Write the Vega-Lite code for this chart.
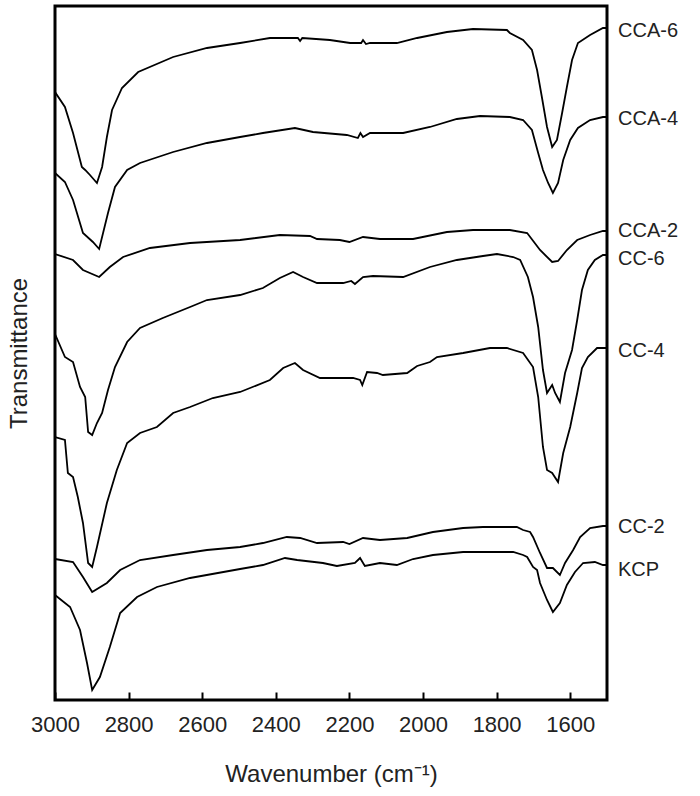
{
  "$schema": "https://vega.github.io/schema/vega-lite/v6.json",
  "width": 552,
  "height": 694,
  "autosize": "none",
  "padding": {"left": 55, "top": 6, "right": 93, "bottom": 96},
  "background": "white",
  "config": {
    "view": {"stroke": "black", "strokeWidth": 3},
    "font": "Liberation Sans",
    "text": {"font": "Liberation Sans"}
  },
  "datasets": {
    "spectra": [
      {"sample":"CCA-6","wavenumber":3000,"transmittance":608},
      {"sample":"CCA-6","wavenumber":2973,"transmittance":593},
      {"sample":"CCA-6","wavenumber":2951,"transmittance":567},
      {"sample":"CCA-6","wavenumber":2927,"transmittance":533},
      {"sample":"CCA-6","wavenumber":2918,"transmittance":530},
      {"sample":"CCA-6","wavenumber":2905,"transmittance":525},
      {"sample":"CCA-6","wavenumber":2886,"transmittance":517},
      {"sample":"CCA-6","wavenumber":2872,"transmittance":533},
      {"sample":"CCA-6","wavenumber":2859,"transmittance":563},
      {"sample":"CCA-6","wavenumber":2845,"transmittance":590},
      {"sample":"CCA-6","wavenumber":2818,"transmittance":612},
      {"sample":"CCA-6","wavenumber":2774,"transmittance":628},
      {"sample":"CCA-6","wavenumber":2679,"transmittance":643},
      {"sample":"CCA-6","wavenumber":2587,"transmittance":652},
      {"sample":"CCA-6","wavenumber":2497,"transmittance":657},
      {"sample":"CCA-6","wavenumber":2416,"transmittance":662},
      {"sample":"CCA-6","wavenumber":2340,"transmittance":662},
      {"sample":"CCA-6","wavenumber":2334,"transmittance":659},
      {"sample":"CCA-6","wavenumber":2328,"transmittance":662},
      {"sample":"CCA-6","wavenumber":2253,"transmittance":660},
      {"sample":"CCA-6","wavenumber":2198,"transmittance":657},
      {"sample":"CCA-6","wavenumber":2168,"transmittance":657},
      {"sample":"CCA-6","wavenumber":2163,"transmittance":660},
      {"sample":"CCA-6","wavenumber":2155,"transmittance":656},
      {"sample":"CCA-6","wavenumber":2144,"transmittance":657},
      {"sample":"CCA-6","wavenumber":2071,"transmittance":657},
      {"sample":"CCA-6","wavenumber":2016,"transmittance":662},
      {"sample":"CCA-6","wavenumber":1935,"transmittance":668},
      {"sample":"CCA-6","wavenumber":1864,"transmittance":671},
      {"sample":"CCA-6","wavenumber":1772,"transmittance":670},
      {"sample":"CCA-6","wavenumber":1764,"transmittance":667},
      {"sample":"CCA-6","wavenumber":1728,"transmittance":660},
      {"sample":"CCA-6","wavenumber":1704,"transmittance":650},
      {"sample":"CCA-6","wavenumber":1690,"transmittance":630},
      {"sample":"CCA-6","wavenumber":1677,"transmittance":603},
      {"sample":"CCA-6","wavenumber":1663,"transmittance":573},
      {"sample":"CCA-6","wavenumber":1649,"transmittance":553},
      {"sample":"CCA-6","wavenumber":1636,"transmittance":560},
      {"sample":"CCA-6","wavenumber":1622,"transmittance":587},
      {"sample":"CCA-6","wavenumber":1609,"transmittance":613},
      {"sample":"CCA-6","wavenumber":1595,"transmittance":640},
      {"sample":"CCA-6","wavenumber":1579,"transmittance":657},
      {"sample":"CCA-6","wavenumber":1546,"transmittance":665},
      {"sample":"CCA-6","wavenumber":1511,"transmittance":672},
      {"sample":"CCA-6","wavenumber":1500,"transmittance":672},

      {"sample":"CCA-4","wavenumber":3000,"transmittance":527},
      {"sample":"CCA-4","wavenumber":2973,"transmittance":518},
      {"sample":"CCA-4","wavenumber":2951,"transmittance":500},
      {"sample":"CCA-4","wavenumber":2924,"transmittance":467},
      {"sample":"CCA-4","wavenumber":2897,"transmittance":458},
      {"sample":"CCA-4","wavenumber":2880,"transmittance":451},
      {"sample":"CCA-4","wavenumber":2856,"transmittance":487},
      {"sample":"CCA-4","wavenumber":2837,"transmittance":513},
      {"sample":"CCA-4","wavenumber":2804,"transmittance":530},
      {"sample":"CCA-4","wavenumber":2769,"transmittance":537},
      {"sample":"CCA-4","wavenumber":2679,"transmittance":548},
      {"sample":"CCA-4","wavenumber":2587,"transmittance":557},
      {"sample":"CCA-4","wavenumber":2497,"transmittance":563},
      {"sample":"CCA-4","wavenumber":2435,"transmittance":567},
      {"sample":"CCA-4","wavenumber":2348,"transmittance":572},
      {"sample":"CCA-4","wavenumber":2299,"transmittance":568},
      {"sample":"CCA-4","wavenumber":2207,"transmittance":565},
      {"sample":"CCA-4","wavenumber":2177,"transmittance":562},
      {"sample":"CCA-4","wavenumber":2170,"transmittance":567},
      {"sample":"CCA-4","wavenumber":2163,"transmittance":563},
      {"sample":"CCA-4","wavenumber":2144,"transmittance":567},
      {"sample":"CCA-4","wavenumber":2054,"transmittance":567},
      {"sample":"CCA-4","wavenumber":1981,"transmittance":573},
      {"sample":"CCA-4","wavenumber":1908,"transmittance":581},
      {"sample":"CCA-4","wavenumber":1845,"transmittance":584},
      {"sample":"CCA-4","wavenumber":1764,"transmittance":583},
      {"sample":"CCA-4","wavenumber":1728,"transmittance":580},
      {"sample":"CCA-4","wavenumber":1704,"transmittance":570},
      {"sample":"CCA-4","wavenumber":1687,"transmittance":547},
      {"sample":"CCA-4","wavenumber":1674,"transmittance":530},
      {"sample":"CCA-4","wavenumber":1660,"transmittance":517},
      {"sample":"CCA-4","wavenumber":1647,"transmittance":507},
      {"sample":"CCA-4","wavenumber":1633,"transmittance":517},
      {"sample":"CCA-4","wavenumber":1619,"transmittance":540},
      {"sample":"CCA-4","wavenumber":1600,"transmittance":560},
      {"sample":"CCA-4","wavenumber":1579,"transmittance":572},
      {"sample":"CCA-4","wavenumber":1546,"transmittance":580},
      {"sample":"CCA-4","wavenumber":1511,"transmittance":583},
      {"sample":"CCA-4","wavenumber":1500,"transmittance":583},

      {"sample":"CCA-2","wavenumber":3000,"transmittance":446},
      {"sample":"CCA-2","wavenumber":2951,"transmittance":440},
      {"sample":"CCA-2","wavenumber":2924,"transmittance":430},
      {"sample":"CCA-2","wavenumber":2880,"transmittance":423},
      {"sample":"CCA-2","wavenumber":2851,"transmittance":433},
      {"sample":"CCA-2","wavenumber":2815,"transmittance":443},
      {"sample":"CCA-2","wavenumber":2742,"transmittance":452},
      {"sample":"CCA-2","wavenumber":2633,"transmittance":457},
      {"sample":"CCA-2","wavenumber":2497,"transmittance":460},
      {"sample":"CCA-2","wavenumber":2389,"transmittance":465},
      {"sample":"CCA-2","wavenumber":2307,"transmittance":464},
      {"sample":"CCA-2","wavenumber":2288,"transmittance":461},
      {"sample":"CCA-2","wavenumber":2226,"transmittance":460},
      {"sample":"CCA-2","wavenumber":2200,"transmittance":458},
      {"sample":"CCA-2","wavenumber":2163,"transmittance":463},
      {"sample":"CCA-2","wavenumber":2117,"transmittance":461},
      {"sample":"CCA-2","wavenumber":2027,"transmittance":461},
      {"sample":"CCA-2","wavenumber":1935,"transmittance":468},
      {"sample":"CCA-2","wavenumber":1864,"transmittance":470},
      {"sample":"CCA-2","wavenumber":1764,"transmittance":470},
      {"sample":"CCA-2","wavenumber":1717,"transmittance":467},
      {"sample":"CCA-2","wavenumber":1682,"transmittance":450},
      {"sample":"CCA-2","wavenumber":1649,"transmittance":438},
      {"sample":"CCA-2","wavenumber":1633,"transmittance":439},
      {"sample":"CCA-2","wavenumber":1609,"transmittance":450},
      {"sample":"CCA-2","wavenumber":1581,"transmittance":460},
      {"sample":"CCA-2","wavenumber":1546,"transmittance":465},
      {"sample":"CCA-2","wavenumber":1511,"transmittance":469},
      {"sample":"CCA-2","wavenumber":1500,"transmittance":469},

      {"sample":"CC-6","wavenumber":3000,"transmittance":366},
      {"sample":"CC-6","wavenumber":2973,"transmittance":343},
      {"sample":"CC-6","wavenumber":2951,"transmittance":338},
      {"sample":"CC-6","wavenumber":2932,"transmittance":313},
      {"sample":"CC-6","wavenumber":2918,"transmittance":303},
      {"sample":"CC-6","wavenumber":2910,"transmittance":268},
      {"sample":"CC-6","wavenumber":2899,"transmittance":265},
      {"sample":"CC-6","wavenumber":2886,"transmittance":277},
      {"sample":"CC-6","wavenumber":2872,"transmittance":287},
      {"sample":"CC-6","wavenumber":2856,"transmittance":310},
      {"sample":"CC-6","wavenumber":2837,"transmittance":333},
      {"sample":"CC-6","wavenumber":2804,"transmittance":358},
      {"sample":"CC-6","wavenumber":2769,"transmittance":372},
      {"sample":"CC-6","wavenumber":2707,"transmittance":382},
      {"sample":"CC-6","wavenumber":2633,"transmittance":393},
      {"sample":"CC-6","wavenumber":2587,"transmittance":400},
      {"sample":"CC-6","wavenumber":2497,"transmittance":405},
      {"sample":"CC-6","wavenumber":2435,"transmittance":412},
      {"sample":"CC-6","wavenumber":2389,"transmittance":422},
      {"sample":"CC-6","wavenumber":2353,"transmittance":428},
      {"sample":"CC-6","wavenumber":2326,"transmittance":423},
      {"sample":"CC-6","wavenumber":2288,"transmittance":417},
      {"sample":"CC-6","wavenumber":2217,"transmittance":417},
      {"sample":"CC-6","wavenumber":2195,"transmittance":419},
      {"sample":"CC-6","wavenumber":2185,"transmittance":416},
      {"sample":"CC-6","wavenumber":2163,"transmittance":423},
      {"sample":"CC-6","wavenumber":2136,"transmittance":424},
      {"sample":"CC-6","wavenumber":2054,"transmittance":423},
      {"sample":"CC-6","wavenumber":1981,"transmittance":433},
      {"sample":"CC-6","wavenumber":1908,"transmittance":440},
      {"sample":"CC-6","wavenumber":1837,"transmittance":444},
      {"sample":"CC-6","wavenumber":1799,"transmittance":446},
      {"sample":"CC-6","wavenumber":1755,"transmittance":443},
      {"sample":"CC-6","wavenumber":1736,"transmittance":440},
      {"sample":"CC-6","wavenumber":1715,"transmittance":423},
      {"sample":"CC-6","wavenumber":1701,"transmittance":403},
      {"sample":"CC-6","wavenumber":1687,"transmittance":373},
      {"sample":"CC-6","wavenumber":1674,"transmittance":330},
      {"sample":"CC-6","wavenumber":1663,"transmittance":307},
      {"sample":"CC-6","wavenumber":1649,"transmittance":315},
      {"sample":"CC-6","wavenumber":1641,"transmittance":307},
      {"sample":"CC-6","wavenumber":1628,"transmittance":298},
      {"sample":"CC-6","wavenumber":1614,"transmittance":327},
      {"sample":"CC-6","wavenumber":1595,"transmittance":350},
      {"sample":"CC-6","wavenumber":1581,"transmittance":380},
      {"sample":"CC-6","wavenumber":1568,"transmittance":410},
      {"sample":"CC-6","wavenumber":1552,"transmittance":430},
      {"sample":"CC-6","wavenumber":1533,"transmittance":440},
      {"sample":"CC-6","wavenumber":1511,"transmittance":445},
      {"sample":"CC-6","wavenumber":1500,"transmittance":445},

      {"sample":"CC-4","wavenumber":3000,"transmittance":263},
      {"sample":"CC-4","wavenumber":2973,"transmittance":260},
      {"sample":"CC-4","wavenumber":2965,"transmittance":227},
      {"sample":"CC-4","wavenumber":2951,"transmittance":223},
      {"sample":"CC-4","wavenumber":2938,"transmittance":203},
      {"sample":"CC-4","wavenumber":2924,"transmittance":177},
      {"sample":"CC-4","wavenumber":2910,"transmittance":137},
      {"sample":"CC-4","wavenumber":2899,"transmittance":133},
      {"sample":"CC-4","wavenumber":2886,"transmittance":153},
      {"sample":"CC-4","wavenumber":2859,"transmittance":197},
      {"sample":"CC-4","wavenumber":2832,"transmittance":230},
      {"sample":"CC-4","wavenumber":2804,"transmittance":257},
      {"sample":"CC-4","wavenumber":2769,"transmittance":267},
      {"sample":"CC-4","wavenumber":2723,"transmittance":273},
      {"sample":"CC-4","wavenumber":2679,"transmittance":287},
      {"sample":"CC-4","wavenumber":2633,"transmittance":293},
      {"sample":"CC-4","wavenumber":2571,"transmittance":302},
      {"sample":"CC-4","wavenumber":2497,"transmittance":308},
      {"sample":"CC-4","wavenumber":2416,"transmittance":320},
      {"sample":"CC-4","wavenumber":2380,"transmittance":332},
      {"sample":"CC-4","wavenumber":2348,"transmittance":337},
      {"sample":"CC-4","wavenumber":2326,"transmittance":330},
      {"sample":"CC-4","wavenumber":2280,"transmittance":322},
      {"sample":"CC-4","wavenumber":2190,"transmittance":322},
      {"sample":"CC-4","wavenumber":2171,"transmittance":320},
      {"sample":"CC-4","wavenumber":2165,"transmittance":315},
      {"sample":"CC-4","wavenumber":2152,"transmittance":328},
      {"sample":"CC-4","wavenumber":2125,"transmittance":327},
      {"sample":"CC-4","wavenumber":2109,"transmittance":325},
      {"sample":"CC-4","wavenumber":2043,"transmittance":327},
      {"sample":"CC-4","wavenumber":2016,"transmittance":334},
      {"sample":"CC-4","wavenumber":1981,"transmittance":338},
      {"sample":"CC-4","wavenumber":1962,"transmittance":343},
      {"sample":"CC-4","wavenumber":1891,"transmittance":347},
      {"sample":"CC-4","wavenumber":1818,"transmittance":352},
      {"sample":"CC-4","wavenumber":1772,"transmittance":352},
      {"sample":"CC-4","wavenumber":1728,"transmittance":347},
      {"sample":"CC-4","wavenumber":1701,"transmittance":333},
      {"sample":"CC-4","wavenumber":1687,"transmittance":303},
      {"sample":"CC-4","wavenumber":1674,"transmittance":253},
      {"sample":"CC-4","wavenumber":1663,"transmittance":230},
      {"sample":"CC-4","wavenumber":1649,"transmittance":227},
      {"sample":"CC-4","wavenumber":1633,"transmittance":218},
      {"sample":"CC-4","wavenumber":1619,"transmittance":247},
      {"sample":"CC-4","wavenumber":1600,"transmittance":273},
      {"sample":"CC-4","wavenumber":1581,"transmittance":307},
      {"sample":"CC-4","wavenumber":1568,"transmittance":332},
      {"sample":"CC-4","wavenumber":1552,"transmittance":343},
      {"sample":"CC-4","wavenumber":1527,"transmittance":352},
      {"sample":"CC-4","wavenumber":1511,"transmittance":352},
      {"sample":"CC-4","wavenumber":1500,"transmittance":352},

      {"sample":"CC-2","wavenumber":3000,"transmittance":141},
      {"sample":"CC-2","wavenumber":2951,"transmittance":138},
      {"sample":"CC-2","wavenumber":2924,"transmittance":123},
      {"sample":"CC-2","wavenumber":2899,"transmittance":108},
      {"sample":"CC-2","wavenumber":2859,"transmittance":117},
      {"sample":"CC-2","wavenumber":2823,"transmittance":130},
      {"sample":"CC-2","wavenumber":2769,"transmittance":140},
      {"sample":"CC-2","wavenumber":2679,"transmittance":145},
      {"sample":"CC-2","wavenumber":2587,"transmittance":150},
      {"sample":"CC-2","wavenumber":2497,"transmittance":153},
      {"sample":"CC-2","wavenumber":2435,"transmittance":157},
      {"sample":"CC-2","wavenumber":2370,"transmittance":163},
      {"sample":"CC-2","wavenumber":2334,"transmittance":162},
      {"sample":"CC-2","wavenumber":2288,"transmittance":157},
      {"sample":"CC-2","wavenumber":2217,"transmittance":158},
      {"sample":"CC-2","wavenumber":2200,"transmittance":156},
      {"sample":"CC-2","wavenumber":2163,"transmittance":162},
      {"sample":"CC-2","wavenumber":2117,"transmittance":160},
      {"sample":"CC-2","wavenumber":2043,"transmittance":162},
      {"sample":"CC-2","wavenumber":1973,"transmittance":168},
      {"sample":"CC-2","wavenumber":1891,"transmittance":172},
      {"sample":"CC-2","wavenumber":1837,"transmittance":173},
      {"sample":"CC-2","wavenumber":1745,"transmittance":173},
      {"sample":"CC-2","wavenumber":1728,"transmittance":170},
      {"sample":"CC-2","wavenumber":1709,"transmittance":168},
      {"sample":"CC-2","wavenumber":1701,"transmittance":163},
      {"sample":"CC-2","wavenumber":1682,"transmittance":147},
      {"sample":"CC-2","wavenumber":1663,"transmittance":132},
      {"sample":"CC-2","wavenumber":1647,"transmittance":132},
      {"sample":"CC-2","wavenumber":1628,"transmittance":125},
      {"sample":"CC-2","wavenumber":1614,"transmittance":137},
      {"sample":"CC-2","wavenumber":1592,"transmittance":150},
      {"sample":"CC-2","wavenumber":1573,"transmittance":163},
      {"sample":"CC-2","wavenumber":1546,"transmittance":172},
      {"sample":"CC-2","wavenumber":1511,"transmittance":174},
      {"sample":"CC-2","wavenumber":1500,"transmittance":174},

      {"sample":"KCP","wavenumber":3000,"transmittance":105},
      {"sample":"KCP","wavenumber":2959,"transmittance":93},
      {"sample":"KCP","wavenumber":2932,"transmittance":70},
      {"sample":"KCP","wavenumber":2913,"transmittance":37},
      {"sample":"KCP","wavenumber":2899,"transmittance":10},
      {"sample":"KCP","wavenumber":2878,"transmittance":23},
      {"sample":"KCP","wavenumber":2851,"transmittance":53},
      {"sample":"KCP","wavenumber":2823,"transmittance":87},
      {"sample":"KCP","wavenumber":2777,"transmittance":103},
      {"sample":"KCP","wavenumber":2723,"transmittance":113},
      {"sample":"KCP","wavenumber":2633,"transmittance":122},
      {"sample":"KCP","wavenumber":2497,"transmittance":131},
      {"sample":"KCP","wavenumber":2435,"transmittance":135},
      {"sample":"KCP","wavenumber":2375,"transmittance":142},
      {"sample":"KCP","wavenumber":2342,"transmittance":140},
      {"sample":"KCP","wavenumber":2272,"transmittance":137},
      {"sample":"KCP","wavenumber":2234,"transmittance":134},
      {"sample":"KCP","wavenumber":2185,"transmittance":137},
      {"sample":"KCP","wavenumber":2171,"transmittance":142},
      {"sample":"KCP","wavenumber":2158,"transmittance":134},
      {"sample":"KCP","wavenumber":2117,"transmittance":137},
      {"sample":"KCP","wavenumber":2071,"transmittance":135},
      {"sample":"KCP","wavenumber":2027,"transmittance":141},
      {"sample":"KCP","wavenumber":1973,"transmittance":145},
      {"sample":"KCP","wavenumber":1891,"transmittance":148},
      {"sample":"KCP","wavenumber":1755,"transmittance":148},
      {"sample":"KCP","wavenumber":1728,"transmittance":145},
      {"sample":"KCP","wavenumber":1717,"transmittance":143},
      {"sample":"KCP","wavenumber":1701,"transmittance":133},
      {"sample":"KCP","wavenumber":1690,"transmittance":130},
      {"sample":"KCP","wavenumber":1682,"transmittance":117},
      {"sample":"KCP","wavenumber":1663,"transmittance":100},
      {"sample":"KCP","wavenumber":1647,"transmittance":88},
      {"sample":"KCP","wavenumber":1628,"transmittance":97},
      {"sample":"KCP","wavenumber":1609,"transmittance":115},
      {"sample":"KCP","wavenumber":1587,"transmittance":128},
      {"sample":"KCP","wavenumber":1565,"transmittance":137},
      {"sample":"KCP","wavenumber":1533,"transmittance":138},
      {"sample":"KCP","wavenumber":1511,"transmittance":135},
      {"sample":"KCP","wavenumber":1500,"transmittance":135}
    ],
    "labels": [
      {"sample":"CCA-6","wavenumber":1500,"transmittance":669},
      {"sample":"CCA-4","wavenumber":1500,"transmittance":581},
      {"sample":"CCA-2","wavenumber":1500,"transmittance":469},
      {"sample":"CC-6","wavenumber":1500,"transmittance":441},
      {"sample":"CC-4","wavenumber":1500,"transmittance":349},
      {"sample":"CC-2","wavenumber":1500,"transmittance":173},
      {"sample":"KCP","wavenumber":1500,"transmittance":130}
    ]
  },
  "layer": [
    {
      "data": {"name": "spectra"},
      "mark": {"type": "line", "color": "black", "strokeWidth": 1.8, "clip": true},
      "encoding": {
        "x": {
          "field": "wavenumber", "type": "quantitative",
          "scale": {"domain": [3000, 1500], "nice": false, "zero": false},
          "axis": {
            "values": [3000, 2800, 2600, 2400, 2200, 2000, 1800, 1600],
            "format": "d", "labelOverlap": false, "labelFlush": false, "labelBound": false,
            "domain": false, "grid": false,
            "tickColor": "black", "tickWidth": 2, "tickSize": -8,
            "labelFontSize": 22, "labelColor": "#222", "labelPadding": 22,
            "labelFont": "Liberation Sans",
            "title": "Wavenumber (cm⁻¹)", "titleFontSize": 24, "titleFontWeight": "normal",
            "titleColor": "#222", "titleFont": "Liberation Sans", "titlePadding": 27
          }
        },
        "y": {
          "field": "transmittance", "type": "quantitative",
          "scale": {"domain": [0, 694], "nice": false, "zero": false},
          "axis": {
            "domain": false, "ticks": false, "labels": false, "grid": false,
            "title": "Transmittance", "titleFontSize": 24, "titleFontWeight": "normal",
            "titleColor": "#222", "titleFont": "Liberation Sans", "titlePadding": 24
          }
        },
        "detail": {"field": "sample"},
        "order": {"field": "wavenumber", "type": "quantitative"}
      }
    },
    {
      "data": {"name": "labels"},
      "mark": {"type": "text", "align": "left", "baseline": "middle", "dx": 11, "fontSize": 20, "color": "#222", "font": "Liberation Sans"},
      "encoding": {
        "x": {"field": "wavenumber", "type": "quantitative"},
        "y": {"field": "transmittance", "type": "quantitative"},
        "text": {"field": "sample"}
      }
    }
  ]
}
